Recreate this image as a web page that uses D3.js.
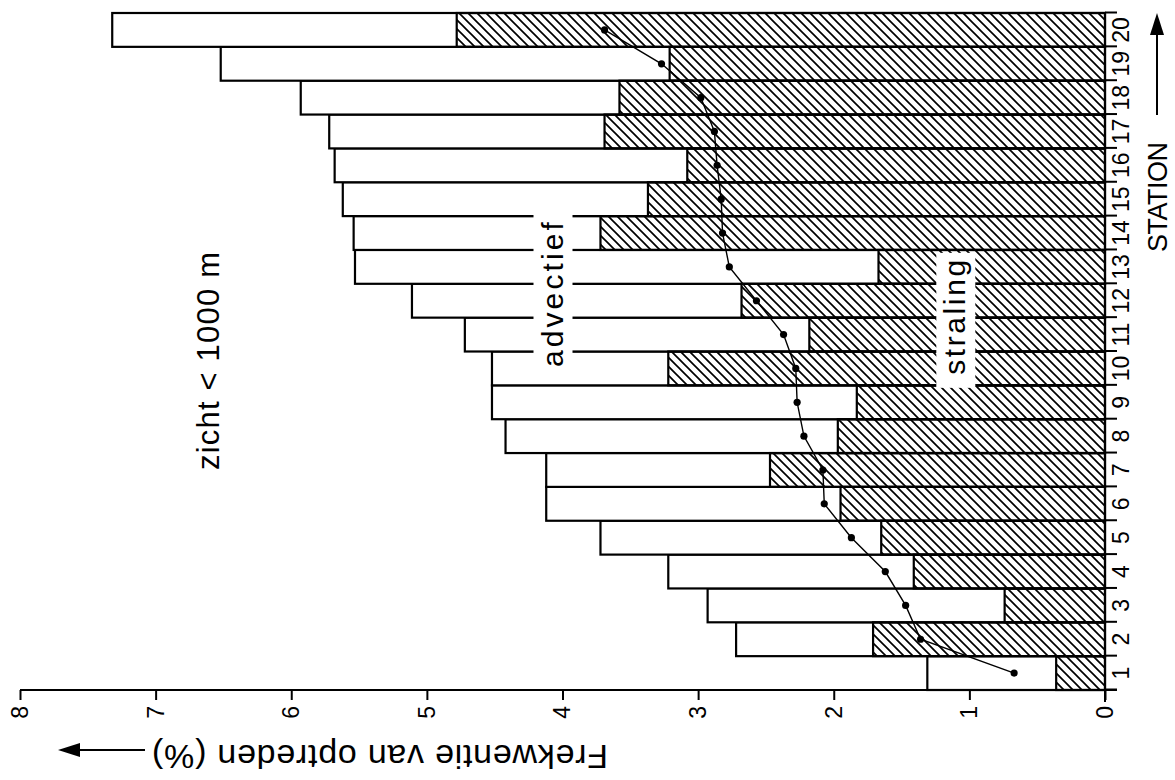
<!DOCTYPE html>
<html>
<head>
<meta charset="utf-8">
<script src="https://cdn.jsdelivr.net/npm/d3@7"></script>
<style>
  body { margin: 0; background: #fff; }
  svg { display: block; font-family: "Liberation Sans", Arial, sans-serif; }
</style>
</head>
<body>
<div id="chart"></div>
<script>
// frequency of fog (zicht < 1000 m) per station, in %
let stations = ["1","2","3","4","5","6","7","8","9","10","11","12","13","14","15","16","17","18","19","20"];
// total length of each bar (advectief + straling)
let totaal = [1.31, 2.72, 2.93, 3.22, 3.72, 4.12, 4.12, 4.42, 4.52, 4.52, 4.72, 5.11, 5.53, 5.54, 5.62, 5.68, 5.72, 5.93, 6.52, 7.32];
// hatched part: radiation fog
let straling = [0.36, 1.71, 0.74, 1.41, 1.65, 1.95, 2.47, 1.97, 1.83, 3.22, 2.18, 2.68, 1.67, 3.72, 3.37, 3.08, 3.69, 3.58, 3.21, 4.78];
// dotted line
let gemiddeld = [0.67, 1.36, 1.47, 1.62, 1.87, 2.07, 2.08, 2.22, 2.27, 2.28, 2.37, 2.57, 2.77, 2.82, 2.83, 2.86, 2.88, 2.98, 3.27, 3.69];
let frekTicks = [0, 1, 2, 3, 4, 5, 6, 7, 8];

let width = 1175, height = 780;
let innerW = 677;   // station direction (runs up the page)
let innerH = 1085;  // frequency direction (runs to the left)

let svg = d3.select("#chart").append("svg")
    .attr("width", width)
    .attr("height", height);

svg.append("defs").append("pattern")
    .attr("id", "hatch")
    .attr("patternUnits", "userSpaceOnUse")
    .attr("width", 9)
    .attr("height", 9)
  .append("path")
    .attr("d", "M-1,1 l2,-2 M0,9 l9,-9 M8,10 l2,-2")
    .attr("stroke", "#000")
    .attr("stroke-width", 1.7);

// the figure is drawn as a normal column chart and then turned a quarter
let g = svg.append("g")
    .attr("transform", "translate(20,690) rotate(-90)");

let x = d3.scaleBand().domain(stations).range([0, innerW]);
let sPos = d3.scaleLinear().domain([0, 20]).range([0, innerW]);
let y = d3.scaleLinear().domain([0, 8]).range([innerH, 0]);

// white bars (total)
g.selectAll(".totaal")
    .data(stations)
    .enter().append("rect")
    .attr("class", "totaal")
    .attr("x", d => x(d))
    .attr("width", x.bandwidth())
    .attr("y", (d, i) => y(totaal[i]))
    .attr("height", (d, i) => innerH - y(totaal[i]))
    .attr("fill", "#fff")
    .attr("stroke", "#000")
    .attr("stroke-width", 2.2);

// hatched bars (straling)
g.selectAll(".straling")
    .data(stations)
    .enter().append("rect")
    .attr("class", "straling")
    .attr("x", d => x(d))
    .attr("width", x.bandwidth())
    .attr("y", (d, i) => y(straling[i]))
    .attr("height", (d, i) => innerH - y(straling[i]))
    .attr("fill", "url(#hatch)")
    .attr("stroke", "#000")
    .attr("stroke-width", 2.2);

// line with dots
let line = d3.line()
    .x((d, i) => x(stations[i]) + x.bandwidth() / 2)
    .y(d => y(d));

g.append("path")
    .datum(gemiddeld)
    .attr("d", line)
    .attr("fill", "none")
    .attr("stroke", "#000")
    .attr("stroke-width", 1.4);

g.selectAll(".dot")
    .data(gemiddeld)
    .enter().append("circle")
    .attr("class", "dot")
    .attr("cx", (d, i) => x(stations[i]) + x.bandwidth() / 2)
    .attr("cy", d => y(d))
    .attr("r", 3.6)
    .attr("fill", "#000");

// labels inside the plot, with a white box where they sit on the bars
function label(txt, st, val, size, len, box) {
    let t = g.append("text")
        .attr("x", sPos(st))
        .attr("y", y(val))
        .attr("font-size", size)
        .attr("textLength", len)
        .attr("fill", "#000")
        .text(txt);
    if (box) {
        let b = t.node().getBBox();
        g.insert("rect", function() { return t.node(); })
            .attr("x", b.x - 13)
            .attr("y", b.y - 2)
            .attr("width", b.width + 20)
            .attr("height", b.height + 6)
            .attr("fill", "#fff");
    }
}
label("zicht < 1000 m", 6.5, 6.53, 31, 218, false);
label("advectief", 9.54, 4.0, 30, 145, true);
label("straling", 9.31, 1.03, 30, 115, true);

// frequency axis
let yAxis = g.append("g")
    .call(d3.axisLeft(y).tickValues(frekTicks).tickSize(10).tickPadding(6).tickSizeOuter(0));
yAxis.select(".domain").remove();
yAxis.attr("font-size", 23).attr("font-family", null);
yAxis.selectAll("line").attr("stroke", "#000").attr("stroke-width", 2);
yAxis.selectAll("text").attr("fill", "#000");

g.append("line")
    .attr("x1", 0).attr("y1", 0)
    .attr("x2", 0).attr("y2", innerH + 12)
    .attr("stroke", "#000").attr("stroke-width", 2);

// station axis: ticks at band edges, numbers in the middle
let edgeAxis = g.append("g")
    .attr("transform", "translate(0," + innerH + ")")
    .call(d3.axisBottom(sPos).tickValues(d3.range(0, 21)).tickFormat("").tickSize(12).tickSizeOuter(0));
edgeAxis.select(".domain").remove();
edgeAxis.selectAll("line").attr("stroke", "#000").attr("stroke-width", 2);

let stAxis = g.append("g")
    .attr("transform", "translate(0," + innerH + ")")
    .call(d3.axisBottom(x).tickSize(0).tickPadding(8));
stAxis.select(".domain").remove();
stAxis.attr("font-size", 23).attr("font-family", null);
stAxis.selectAll("text").attr("fill", "#000");

g.append("line")
    .attr("x1", -12).attr("y1", innerH)
    .attr("x2", innerW).attr("y2", innerH)
    .attr("stroke", "#000").attr("stroke-width", 2);

// axis titles with arrows
g.append("text")
    .attr("transform", "translate(-55,360) rotate(-90)")
    .attr("text-anchor", "middle")
    .attr("font-size", 34)
    .attr("textLength", 456)
    .attr("fill", "#000")
    .text("Frekwentie van optreden (%)");

g.append("line")
    .attr("x1", -60).attr("y1", 125)
    .attr("x2", -60).attr("y2", 58)
    .attr("stroke", "#000").attr("stroke-width", 2);
g.append("path")
    .attr("d", "M-60,38 L-67,60 L-53,60 Z")
    .attr("fill", "#000");

g.append("text")
    .attr("x", 438)
    .attr("y", innerH + 62)
    .attr("font-size", 27)
    .attr("textLength", 110)
    .attr("fill", "#000")
    .text("STATION");

g.append("line")
    .attr("x1", 575).attr("y1", innerH + 52)
    .attr("x2", 657).attr("y2", innerH + 52)
    .attr("stroke", "#000").attr("stroke-width", 2);
g.append("path")
    .attr("d", "M677," + (innerH + 52) + " L655," + (innerH + 45) + " L655," + (innerH + 59) + " Z")
    .attr("fill", "#000");
</script>
</body>
</html>
